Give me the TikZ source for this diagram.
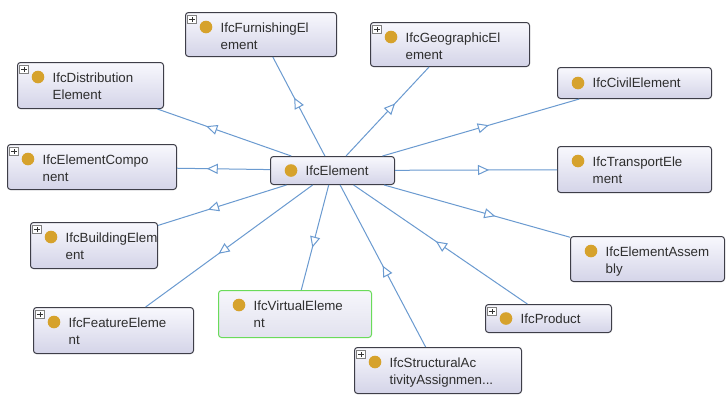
\documentclass[tikz,border=0pt]{standalone}
\usepackage{fontspec}
\setmainfont{Liberation Sans}
\usetikzlibrary{arrows.meta,decorations.markings}
\definecolor{edgeblue}{HTML}{6A9AD0}
\definecolor{boxtop}{HTML}{F8F8FD}
\definecolor{boxbot}{HTML}{D4D4E8}
\definecolor{vtop}{HTML}{F6F6FB}
\definecolor{vbot}{HTML}{E2E2EF}
\definecolor{boxline}{HTML}{3E3E48}
\definecolor{dotgold}{HTML}{D6A22C}
\definecolor{greenline}{HTML}{6ADB5A}
\definecolor{txt}{HTML}{2E2E2E}
\tikzset{
  cbox/.style={draw=boxline, line width=1pt, rounded corners=3pt, top color=boxtop, bottom color=boxbot, anchor=north west, inner sep=0pt},
  vbox/.style={cbox, draw=greenline, top color=vtop, bottom color=vbot},
  ctext/.style={anchor=north west, align=left, inner sep=0pt, text=txt, font=\fontsize{13.3}{17}\selectfont},
  ctextone/.style={ctext, anchor=west},
  plusbox/.style={draw=gray, line width=0.6pt, fill=white, minimum width=8.5pt, minimum height=8pt, inner sep=0pt,
    path picture={\draw[line width=0.8pt, black!80] ([xshift=-2.6pt]path picture bounding box.center) -- ([xshift=2.6pt]path picture bounding box.center) ([yshift=-2.6pt]path picture bounding box.center) -- ([yshift=2.6pt]path picture bounding box.center);}},
  edge/.style={draw=edgeblue, line width=1pt},
  midarrow/.style={postaction={decorate},
    decoration={markings, mark=at position 0.5 with {\arrow[edgeblue, line width=1pt, xshift=5.5pt]{Triangle[fill=white, length=11pt, width=10pt]}}}}
}
\newcommand\klass[8]{%
  \node[#6, minimum width=#4pt, minimum height=#5pt] (#1) at (#2,#3) {};
  \ifdim#5pt<35pt
    \fill[dotgold] ([xshift=21pt]#1.west) circle[radius=6.3pt];
    \node[ctextone] (#1-t) at ([xshift=35.5pt]#1.west) {#8};
  \else
    \fill[dotgold] ([shift={(21pt,-15pt)}]#1.north west) circle[radius=6.3pt];
    \node[ctext] (#1-t) at ([shift={(35.5pt,-10.3pt)}]#1.north west) {#8};
  \fi
  \ifnum#7=1 \node[plusbox] (#1-p) at ([shift={(7pt,-7.5pt)}]#1.north west) {};\fi
}
\newcommand\link[2]{%
  \path[edge] (#1) -- (#2);
  \path[midarrow] (#1.center) -- (#2.center);
}
\begin{document}
\begin{tikzpicture}[x=1pt,y=-1pt]
\useasboundingbox[fill=white] (0,0) rectangle (728,394);
\klass{fur}{185}{12}{151}{44}{cbox}{1}{IfcFurnishingEl\\ement}
\klass{geo}{370}{22}{159}{44}{cbox}{1}{IfcGeographicEl\\ement}
\klass{dis}{17}{62}{146}{46}{cbox}{1}{IfcDistribution\\Element}
\klass{civ}{557}{67}{154}{31}{cbox}{0}{IfcCivilElement}
\klass{com}{7}{144}{169}{45}{cbox}{1}{IfcElementCompo\\nent}
\klass{e}{270}{156}{124}{28}{cbox}{0}{IfcElement}
\klass{tra}{557}{146}{154}{46}{cbox}{0}{IfcTransportEle\\ment}
\klass{bui}{30}{222}{127}{46}{cbox}{1}{IfcBuildingElem\\ent}
\klass{ass}{570}{236}{154}{45}{cbox}{0}{IfcElementAssem\\bly}
\klass{fea}{33}{307}{160}{46}{cbox}{1}{IfcFeatureEleme\\nt}
\klass{vir}{218}{290}{153}{47}{vbox}{0}{IfcVirtualEleme\\nt}
\klass{pro}{485}{304}{126}{28}{cbox}{1}{IfcProduct}
\klass{str}{354}{347}{167}{46}{cbox}{1}{IfcStructuralAc\\tivityAssignmen...}
\link{e}{fur}
\link{e}{geo}
\link{e}{dis}
\link{e}{civ}
\link{e}{com}
\link{e}{tra}
\link{e}{bui}
\link{e}{ass}
\link{e}{fea}
\link{e}{vir}
\link{pro}{e}
\link{str}{e}
\end{tikzpicture}
\end{document}
